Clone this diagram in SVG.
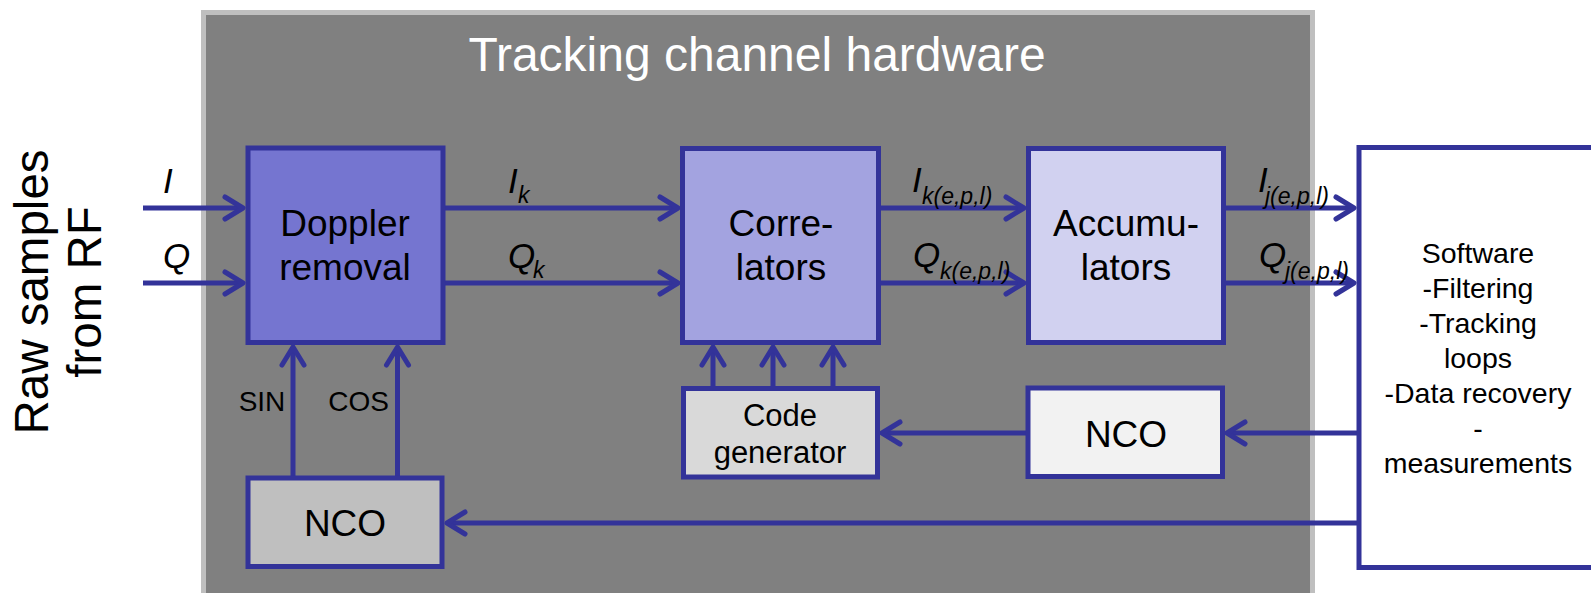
<svg xmlns="http://www.w3.org/2000/svg" width="1591" height="593" viewBox="0 0 1591 593">
<style>
.box{stroke:#333399;stroke-width:5}
.t{font-family:"Liberation Sans",Arial,sans-serif;fill:#000;text-anchor:middle}
.lab{font-family:"Liberation Sans",Arial,sans-serif;font-style:italic;fill:#000;font-size:35px}
.sub{font-size:23px}
.con{stroke:#333399;stroke-width:5;fill:none;marker-end:url(#ah)}
</style>
<defs>
<marker id="ah" markerUnits="userSpaceOnUse" orient="auto" markerWidth="30" markerHeight="30" refX="0" refY="0" viewBox="-24 -15 30 30" overflow="visible">
<path d="M-18,-11 L0,0 L-18,11" fill="none" stroke="#333399" stroke-width="5" stroke-linecap="round" stroke-linejoin="round"/>
</marker>
</defs>
<rect width="1591" height="593" fill="#ffffff"/>
<g id="panel">
<rect x="203.5" y="12.5" width="1109" height="600" fill="#808080" stroke="#bfbfbf" stroke-width="5"/>
<text class="t" x="757" y="71" font-size="48" style="fill:#ffffff">Tracking channel hardware</text>
</g>
<g id="source-label">
<text class="t" font-size="47.5" transform="translate(48,292) rotate(-90)">Raw samples</text>
<text class="t" font-size="47.5" transform="translate(101,292) rotate(-90)">from RF</text>
</g>
<g id="connectors">
<line class="con" x1="143" y1="208" x2="243" y2="208"/>
<line class="con" x1="143" y1="283" x2="243" y2="283"/>
<line class="con" x1="445" y1="208" x2="678" y2="208"/>
<line class="con" x1="445" y1="283" x2="678" y2="283"/>
<line class="con" x1="880" y1="208" x2="1024" y2="208"/>
<line class="con" x1="880" y1="283" x2="1024" y2="283"/>
<line class="con" x1="1225" y1="208" x2="1354" y2="208"/>
<line class="con" x1="1225" y1="283" x2="1354" y2="283"/>
<line class="con" x1="293" y1="476" x2="293" y2="347"/>
<line class="con" x1="397.5" y1="476" x2="397.5" y2="347"/>
<line class="con" x1="713" y1="386" x2="713" y2="347"/>
<line class="con" x1="773" y1="386" x2="773" y2="347"/>
<line class="con" x1="833" y1="386" x2="833" y2="347"/>
<line class="con" x1="1357" y1="433" x2="1227" y2="433"/>
<line class="con" x1="1026" y1="433" x2="882" y2="433"/>
<line class="con" x1="1357" y1="523" x2="447" y2="523"/>
<text class="lab" x="163" y="193">I</text>
<text class="lab" x="163" y="268">Q</text>
<text class="lab" x="508" y="193">I<tspan class="sub" x="518" y="203">k</tspan></text>
<text class="lab" x="508" y="268">Q<tspan class="sub" x="533" y="278">k</tspan></text>
<text class="lab" x="912" y="192">I<tspan class="sub" x="922" y="204">k(e,p,l)</tspan></text>
<text class="lab" x="913" y="267">Q<tspan class="sub" x="940" y="279">k(e,p,l)</tspan></text>
<text class="lab" x="1258" y="192">I<tspan class="sub" x="1265" y="204">j(e,p,l)</tspan></text>
<text class="lab" x="1259" y="267">Q<tspan class="sub" x="1285" y="279">j(e,p,l)</tspan></text>
<text class="t" x="262" y="411" font-size="28">SIN</text>
<text class="t" x="358.5" y="411" font-size="28">COS</text>
</g>
<g id="doppler">
<rect class="box" x="248" y="148" width="195" height="194.5" fill="#7575d0"/>
<text class="t" x="345" y="236" font-size="37">Doppler</text>
<text class="t" x="345" y="279.5" font-size="37">removal</text>
</g>
<g id="correlators">
<rect class="box" x="682.5" y="148.5" width="196" height="194" fill="#a3a3e0"/>
<text class="t" x="781" y="236" font-size="37">Corre-</text>
<text class="t" x="781" y="280" font-size="37">lators</text>
</g>
<g id="accumulators">
<rect class="box" x="1028.5" y="148.5" width="195" height="194" fill="#d1d1f0"/>
<text class="t" x="1126" y="236" font-size="37">Accumu-</text>
<text class="t" x="1126" y="280" font-size="37">lators</text>
</g>
<g id="code-generator">
<rect class="box" x="683.5" y="388.5" width="194" height="88.5" fill="#d9d9d9"/>
<text class="t" x="780" y="426" font-size="31">Code</text>
<text class="t" x="780" y="463" font-size="31">generator</text>
</g>
<g id="nco-code">
<rect class="box" x="1028" y="388" width="194.5" height="88.5" fill="#f2f2f2"/>
<text class="t" x="1126" y="447" font-size="37">NCO</text>
</g>
<g id="nco-carrier">
<rect class="box" x="248" y="478" width="194" height="88.5" fill="#bfbfbf"/>
<text class="t" x="345" y="536" font-size="37">NCO</text>
</g>
<g id="software">
<rect class="box" x="1359" y="147.5" width="300" height="420" fill="#ffffff"/>
<text class="t" x="1478" y="263" font-size="28.5">Software</text>
<text class="t" x="1478" y="298" font-size="28.5">-Filtering</text>
<text class="t" x="1478" y="333" font-size="28.5">-Tracking</text>
<text class="t" x="1478" y="368" font-size="28.5">loops</text>
<text class="t" x="1478" y="403" font-size="28.5">-Data recovery</text>
<text class="t" x="1478" y="438" font-size="28.5">-</text>
<text class="t" x="1478" y="473" font-size="28.5">measurements</text>
</g>
</svg>
